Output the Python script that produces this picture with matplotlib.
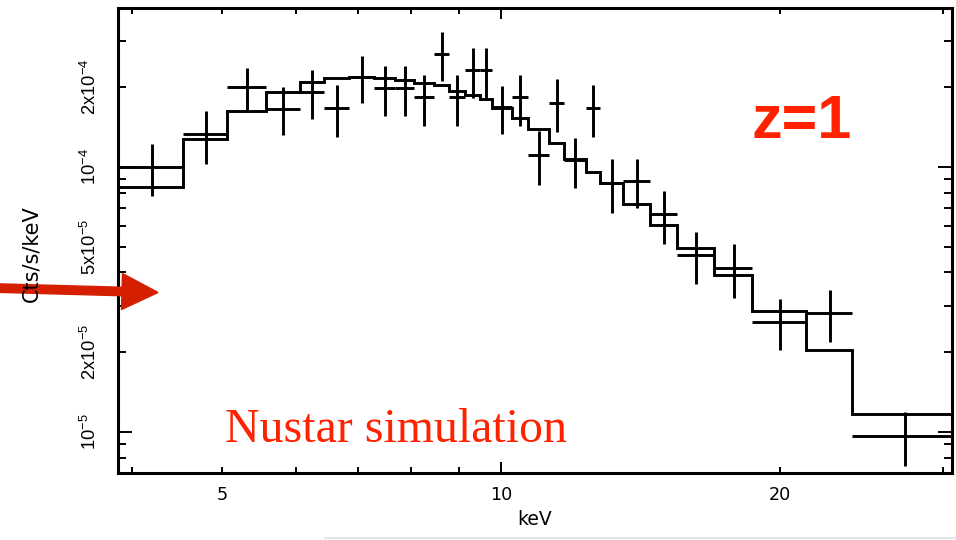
import numpy as np
import matplotlib
matplotlib.use('Agg')
import matplotlib.pyplot as plt
from matplotlib.ticker import FixedLocator, FuncFormatter
from matplotlib.patches import FancyArrow
from matplotlib.lines import Line2D

# energy bins, keV (28 bins)
bin_edges = [3.86, 4.54, 5.06, 5.57, 6.07, 6.44, 6.86, 7.30, 7.69, 8.06,
             8.47, 8.79, 9.15, 9.49, 9.78, 10.28, 10.69, 11.27, 11.70, 12.35,
             12.79, 13.54, 14.48, 15.48, 16.97, 18.66, 21.33, 23.92, 30.66]

# simulated spectrum, Cts/s/keV
rate = [1.00e-4, 1.33e-4, 2.00e-4, 1.66e-4, 1.92e-4, 1.67e-4, 2.18e-4, 1.98e-4, 1.98e-4, 1.83e-4,
        2.67e-4, 1.83e-4, 2.32e-4, 2.32e-4, 1.68e-4, 1.83e-4, 1.11e-4, 1.75e-4, 1.06e-4, 1.67e-4,
        8.68e-5, 8.86e-5, 6.63e-5, 4.65e-5, 4.15e-5, 2.61e-5, 2.81e-5, 9.66e-6]
rate_err = [2.25e-5, 3.0e-5, 3.68e-5, 3.4e-5, 4.0e-5, 3.75e-5, 4.35e-5, 4.2e-5, 4.2e-5, 4.0e-5,
            5.55e-5, 4.0e-5, 4.95e-5, 4.95e-5, 3.45e-5, 4.0e-5, 2.56e-5, 3.9e-5, 2.3e-5, 3.75e-5,
            2.0e-5, 1.86e-5, 1.51e-5, 1.03e-5, 9.6e-6, 5.7e-6, 6.2e-6, 2.2e-6]

# folded model
model = [8.41e-5, 1.28e-4, 1.63e-4, 1.92e-4, 2.09e-4, 2.16e-4, 2.19e-4, 2.17e-4, 2.13e-4, 2.08e-4,
         2.03e-4, 1.94e-4, 1.87e-4, 1.81e-4, 1.67e-4, 1.53e-4, 1.39e-4, 1.23e-4, 1.07e-4, 9.60e-5,
         8.68e-5, 7.22e-5, 6.04e-5, 4.96e-5, 3.91e-5, 2.87e-5, 2.03e-5, 1.17e-5]

x_ticklabels = {5: '5', 10: '10', 20: '20'}
y_ticklabels = {1e-5: '10$^{-5}$', 2e-5: '2x10$^{-5}$', 5e-5: '5x10$^{-5}$',
                1e-4: '10$^{-4}$', 2e-4: '2x10$^{-4}$'}

plt.rcParams['mathtext.default'] = 'regular'

W, H = 956, 540
fig = plt.figure(figsize=(W / 100, H / 100), dpi=100)
ax = fig.add_axes([118 / W, 1 - 473 / H, (952 - 118) / W, (473 - 8) / H])

edges = np.array(bin_edges)
centers = (edges[:-1] + edges[1:]) / 2
half = (edges[1:] - edges[:-1]) / 2

ax.stairs(model, edges, baseline=None, color='k', lw=2.1)
ax.errorbar(centers, rate, xerr=half, yerr=rate_err, fmt='none',
            ecolor='k', elinewidth=2.1, capsize=0)

ax.set_xscale('log')
ax.set_yscale('log')
ax.set_xlim(3.86, 30.66)
ax.set_ylim(7.0e-6, 3.98e-4)


def pick(table):
    def fmt(v, pos):
        for k, s in table.items():
            if np.isclose(v, k, rtol=1e-3):
                return s
        return ''
    return FuncFormatter(fmt)


ax.xaxis.set_major_locator(FixedLocator([10]))
ax.xaxis.set_minor_locator(FixedLocator([4, 5, 6, 7, 8, 9, 20, 30]))
ax.xaxis.set_major_formatter(pick(x_ticklabels))
ax.xaxis.set_minor_formatter(pick(x_ticklabels))

ax.yaxis.set_major_locator(FixedLocator([1e-5, 1e-4]))
ymin = [m * d for d in (1e-6, 1e-5, 1e-4) for m in range(2, 10)]
ax.yaxis.set_minor_locator(FixedLocator(ymin))
ax.yaxis.set_major_formatter(pick(y_ticklabels))
ax.yaxis.set_minor_formatter(pick(y_ticklabels))

for s in ax.spines.values():
    s.set_linewidth(2.2)

ax.tick_params(which='both', direction='in', top=True, right=True, width=1.4)
ax.tick_params(axis='x', which='major', length=8)
ax.tick_params(axis='x', which='minor', length=4.5)
ax.tick_params(axis='y', which='major', length=10)
ax.tick_params(axis='y', which='minor', length=5.5)
ax.tick_params(axis='x', which='both', labelsize=12.7, pad=9)
ax.tick_params(axis='y', which='both', labelsize=13.2, pad=13,
               labelrotation=90, labelfontfamily='Liberation Sans')
for lab in ax.get_yticklabels(which='both'):
    lab.set_verticalalignment('center')

ax.set_xlabel('keV', fontsize=13.5, labelpad=5)

fig.text(31 / W, 1 - 254 / H, 'Cts/s/keV', rotation=90, fontsize=15,
         ha='center', va='center')

# annotations from the slide
red = '#ff2200'
fig.text(802 / W, 1 - 138 / H, 'z=1', color=red, fontsize=44,
         fontweight='bold', family='Liberation Sans', ha='center', va='baseline')
fig.text(225 / W, 1 - 442 / H, 'Nustar simulation', color=red, fontsize=34.5,
         family='Liberation Serif', ha='left', va='baseline')

arrow = FancyArrow(-0.05, (H - 288) / 100, 1.63, -0.045, width=0.085,
                   head_width=0.36, head_length=0.36, length_includes_head=True,
                   color='#d42000', transform=fig.dpi_scale_trans)
fig.patches.append(arrow)

fig.add_artist(Line2D([0.34, 1.0], [1 - 538 / H, 1 - 538 / H], color='#e6e6e6',
                      lw=1.5, transform=fig.transFigure))

fig.savefig('out.png', dpi=100)
